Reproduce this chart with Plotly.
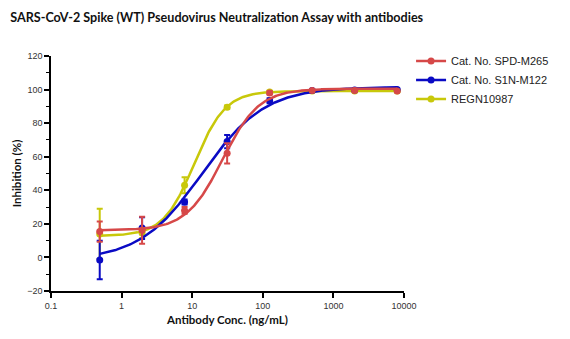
import numpy as np
import plotly.graph_objects as go

# ---- data ----
conc = [0.49, 1.95, 7.8, 31.25, 125, 500, 2000, 8000]

red_name = "Cat. No. SPD-M265"
red_mean = [15.4, 16.2, 28.0, 62.0, 98.0, 99.5, 99.5, 99.2]
red_err = [6.0, 8.0, 2.0, 6.0, 1.0, 0.5, 0.5, 0.5]

blue_name = "Cat. No. S1N-M122"
blue_mean = [-1.5, 17.5, 33.0, 69.0, 93.3, 99.5, 99.7, 100.0]
blue_err = [11.5, 6.5, 1.5, 4.0, 1.5, 0.5, 0.5, 0.5]

yel_name = "REGN10987"
yel_mean = [14.0, 14.5, 43.0, 89.5, 98.5, 99.2, 99.2, 99.2]
yel_err = [15.0, 3.0, 4.8, 1.0, 0.8, 0.5, 0.5, 0.5]

red_c = "rgb(214,72,72)"
blue_c = "rgb(10,10,196)"
yel_c = "rgb(200,200,10)"


def fit4pl(x, y):
    """Least-squares 4-parameter logistic fit (grid over EC50/hill, linear in bottom/top)."""
    x = np.asarray(x, float)
    y = np.asarray(y, float)
    best = None
    for lec in np.arange(-0.5, 3.0, 0.01):
        for h in np.arange(0.5, 3.5, 0.02):
            f = 1.0 / (1.0 + (10 ** lec / x) ** h)
            A = np.vstack([1 - f, f]).T
            coef, *_ = np.linalg.lstsq(A, y, rcond=None)
            r = np.sum((A @ coef - y) ** 2)
            if best is None or r < best[0]:
                best = (r, lec, h, coef)
    _, lec, h, (b, t) = best
    xs = np.logspace(np.log10(min(x)), np.log10(max(x)), 300)
    ys = b + (t - b) / (1.0 + (10 ** lec / xs) ** h)
    return xs, ys


fig = go.Figure()

series = [
    (yel_name, yel_mean, yel_err, yel_c, 3),
    (blue_name, blue_mean, blue_err, blue_c, 2),
    (red_name, red_mean, red_err, red_c, 1),
]

for name, mean, err, col, rank in series:
    xs, ys = fit4pl(conc, mean)
    fig.add_trace(go.Scatter(
        x=conc, y=mean, mode="markers",
        marker=dict(color=col, size=7),
        error_y=dict(type="data", array=err, color=col, thickness=2, width=3),
        showlegend=False, legendgroup=name, hoverinfo="skip"))
    fig.add_trace(go.Scatter(
        x=xs, y=ys, mode="lines", line=dict(color=col, width=2.5),
        showlegend=False, legendgroup=name, hoverinfo="skip"))
    fig.add_trace(go.Scatter(
        x=[None], y=[None], mode="lines+markers", name=name,
        line=dict(color=col, width=2.5), marker=dict(color=col, size=7),
        legendgroup=name, legendrank=rank))

# very faint watermark
fig.add_annotation(text="BIOSYSTEMS", xref="paper", yref="paper", x=0.75, y=0.74,
                   showarrow=False, font=dict(size=26, color="rgba(0,0,0,0.02)", family="Lato"))

axis_font = dict(family="Arial, Liberation Sans", size=9, color="#333")

fig.update_layout(
    width=570, height=339,
    margin=dict(l=51, r=166, t=56, b=48),
    paper_bgcolor="white", plot_bgcolor="white",
    title=dict(text="<b>SARS-CoV-2 Spike (WT) Pseudovirus Neutralization Assay with antibodies</b>",
               x=0.018, xanchor="left", y=0.947, yanchor="middle",
               font=dict(family="Lato", size=12.6, color="#111")),
    legend=dict(x=1.02, y=1.04, xanchor="left", yanchor="top",
                font=dict(family="Arial, Liberation Sans", size=11, color="#222"),
                bgcolor="rgba(0,0,0,0)", tracegroupgap=0, itemwidth=30),
    xaxis=dict(type="log", range=[-1, 4], showgrid=False, zeroline=False,
               showline=True, linecolor="black", linewidth=1.5,
               ticks="outside", ticklen=5, tickwidth=1.5, tickcolor="black",
               tickvals=[0.1, 1, 10, 100, 1000, 10000],
               ticktext=["0.1", "1", "10", "100", "1000", "10000"],
               tickfont=axis_font,
               title=dict(text="<b>Antibody Conc. (ng/mL)</b>", standoff=6,
                          font=dict(family="Lato", size=11.5, color="#111"))),
    yaxis=dict(range=[-20, 120], showgrid=False, zeroline=False,
               showline=True, linecolor="black", linewidth=1.5,
               ticks="outside", ticklen=5, tickwidth=1.5, tickcolor="black",
               dtick=20, tickfont=axis_font,
               minor=dict(dtick=10, ticks="outside", ticklen=3, tickwidth=1, tickcolor="black"),
               title=dict(text="<b>Inhibition (%)</b>", standoff=3,
                          font=dict(family="Lato", size=11.5, color="#111"))),
)

fig.write_html("out.html")
